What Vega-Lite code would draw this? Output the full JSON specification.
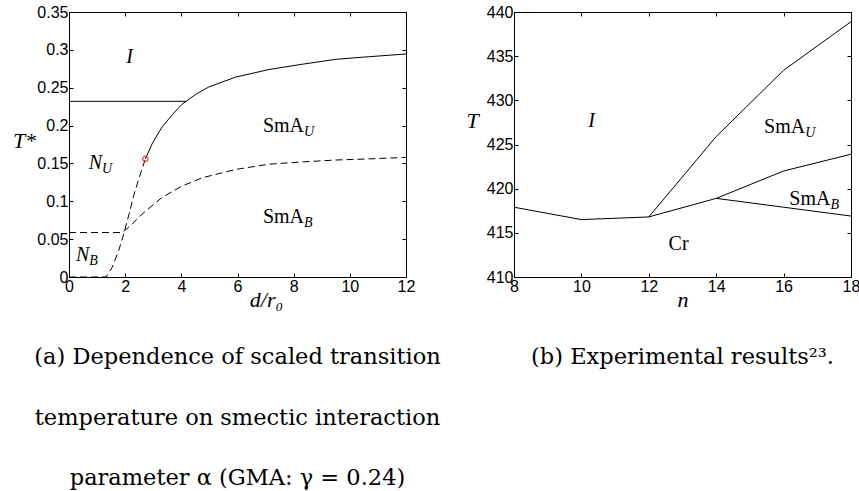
{
  "$schema": "https://vega.github.io/schema/vega-lite/v6.json",
  "background": "white",
  "padding": {"left": 12, "top": 4, "right": 5, "bottom": 5},
  "autosize": {"type": "pad"},
  "bounds": "flush",
  "spacing": 108,
  "datasets": {
    "aSolid": [
      {"seg": "h", "x": 0, "y": 0.232}, {"seg": "h", "x": 4.17, "y": 0.232},
      {"seg": "c", "x": 2.72, "y": 0.156}, {"seg": "c", "x": 2.96, "y": 0.176},
      {"seg": "c", "x": 3.31, "y": 0.198}, {"seg": "c", "x": 3.67, "y": 0.214},
      {"seg": "c", "x": 4.02, "y": 0.228}, {"seg": "c", "x": 4.5, "y": 0.241},
      {"seg": "c", "x": 4.98, "y": 0.251}, {"seg": "c", "x": 5.93, "y": 0.264},
      {"seg": "c", "x": 7.12, "y": 0.274}, {"seg": "c", "x": 8.3, "y": 0.281},
      {"seg": "c", "x": 9.5, "y": 0.2875}, {"seg": "c", "x": 10.7, "y": 0.291},
      {"seg": "c", "x": 12, "y": 0.2945}
    ],
    "aDash": [
      {"seg": "s", "x": 0, "y": 0}, {"seg": "s", "x": 1.32, "y": 0},
      {"seg": "s", "x": 1.53, "y": 0.0123}, {"seg": "s", "x": 1.77, "y": 0.035},
      {"seg": "s", "x": 1.95, "y": 0.057}, {"seg": "s", "x": 2.13, "y": 0.082},
      {"seg": "s", "x": 2.3, "y": 0.107}, {"seg": "s", "x": 2.48, "y": 0.129},
      {"seg": "s", "x": 2.72, "y": 0.156},
      {"seg": "b", "x": 0, "y": 0.0587}, {"seg": "b", "x": 1.89, "y": 0.0587},
      {"seg": "b", "x": 2.2, "y": 0.068}, {"seg": "b", "x": 2.6, "y": 0.083},
      {"seg": "b", "x": 3.31, "y": 0.105}, {"seg": "b", "x": 4.02, "y": 0.12},
      {"seg": "b", "x": 4.74, "y": 0.131}, {"seg": "b", "x": 5.93, "y": 0.142},
      {"seg": "b", "x": 7.12, "y": 0.149}, {"seg": "b", "x": 8.3, "y": 0.152},
      {"seg": "b", "x": 9.5, "y": 0.1545}, {"seg": "b", "x": 10.7, "y": 0.156},
      {"seg": "b", "x": 12, "y": 0.158}
    ],
    "aPoint": [{"x": 2.72, "y": 0.156}],
    "aLabels": [
      {"role": "mi", "t": "I", "x": 2.28, "y": 0.282},
      {"role": "mu", "t": "SmA", "x": 8.37, "y": 0.191},
      {"role": "s", "t": "U", "x": 8.37, "y": 0.191},
      {"role": "mu", "t": "SmA", "x": 8.37, "y": 0.0707},
      {"role": "s", "t": "B", "x": 8.37, "y": 0.0707},
      {"role": "mi", "t": "N", "x": 1.175, "y": 0.1428},
      {"role": "s", "t": "U", "x": 1.175, "y": 0.1428},
      {"role": "mi", "t": "N", "x": 0.72, "y": 0.0212},
      {"role": "s", "t": "B", "x": 0.72, "y": 0.0212}
    ],
    "bLines": [
      {"seg": "1", "n": 8, "T": 417.9}, {"seg": "1", "n": 10, "T": 416.5},
      {"seg": "1", "n": 12, "T": 416.8}, {"seg": "1", "n": 14, "T": 425.9},
      {"seg": "1", "n": 16, "T": 433.4}, {"seg": "1", "n": 18, "T": 438.9},
      {"seg": "2", "n": 12, "T": 416.8}, {"seg": "2", "n": 14, "T": 418.9},
      {"seg": "2", "n": 16, "T": 422.0}, {"seg": "2", "n": 18, "T": 423.9},
      {"seg": "3", "n": 14, "T": 418.9}, {"seg": "3", "n": 16, "T": 417.9},
      {"seg": "3", "n": 18, "T": 416.9}
    ],
    "bLabels": [
      {"role": "mi", "t": "I", "n": 10.4, "T": 427.0},
      {"role": "mu", "t": "SmA", "n": 16.64, "T": 426.3},
      {"role": "s", "t": "U", "n": 16.64, "T": 426.3},
      {"role": "mu", "t": "SmA", "n": 17.39, "T": 418.2},
      {"role": "s", "t": "B", "n": 17.39, "T": 418.2},
      {"role": "mu", "t": "Cr", "n": 13.18, "T": 413.1}
    ]
  },
  "hconcat": [
    {
      "width": 337,
      "height": 265,
      "title": {
        "text": ["(a) Dependence of scaled transition", "temperature on smectic interaction", "parameter α (GMA: γ = 0.24)"],
        "orient": "bottom", "anchor": "middle", "font": "DejaVu Serif", "fontSize": 22.5,
        "fontWeight": "normal", "color": "black", "lineHeight": 60.5, "offset": 36
      },
      "resolve": {"axis": {"x": "independent", "y": "independent"}},
      "layer": [
        {
          "data": {"name": "aSolid"},
          "mark": {"type": "line", "color": "black", "strokeWidth": 1},
          "encoding": {
            "x": {"field": "x", "type": "quantitative", "scale": {"domain": [0, 12], "nice": false},
              "axis": {"values": [0, 2, 4, 6, 8, 10, 12], "title": "d/r₀", "titleX": 197, "titleY": 29,
                "titleAlign": "center", "titleBaseline": "alphabetic"}},
            "y": {"field": "y", "type": "quantitative", "scale": {"domain": [0, 0.35], "nice": false},
              "axis": {"values": [0, 0.05, 0.1, 0.15, 0.2, 0.25, 0.3, 0.35], "format": "~g", "title": "T*",
                "titleAngle": 0, "titleX": -45, "titleY": 128, "titleAlign": "center", "titleBaseline": "middle"}},
            "detail": {"field": "seg"}
          }
        },
        {
          "data": {"name": "aDash"},
          "mark": {"type": "line", "color": "black", "strokeWidth": 1, "strokeDash": [7, 4]},
          "encoding": {
            "x": {"field": "x", "type": "quantitative", "scale": {"domain": [0, 12], "nice": false}, "axis": null},
            "y": {"field": "y", "type": "quantitative", "scale": {"domain": [0, 0.35], "nice": false}, "axis": null},
            "detail": {"field": "seg"}
          }
        },
        {
          "data": {"name": "aPoint"},
          "mark": {"type": "point", "shape": "circle", "filled": false, "color": "#ff0000", "size": 30, "strokeWidth": 1, "opacity": 1},
          "encoding": {
            "x": {"field": "x", "type": "quantitative", "scale": {"domain": [0, 12], "nice": false},
              "axis": {"orient": "top", "values": [0, 2, 4, 6, 8, 10, 12], "labels": false, "title": null}},
            "y": {"field": "y", "type": "quantitative", "scale": {"domain": [0, 0.35], "nice": false},
              "axis": {"orient": "right", "values": [0, 0.05, 0.1, 0.15, 0.2, 0.25, 0.3, 0.35], "labels": false, "title": null}}
          }
        },
        {
          "data": {"name": "aLabels"},
          "transform": [{"filter": "datum.role === 'mi'"}],
          "mark": {"type": "text", "font": "Liberation Serif", "fontSize": 20, "fontStyle": "italic", "align": "right", "baseline": "alphabetic", "color": "black"},
          "encoding": {
            "x": {"field": "x", "type": "quantitative", "scale": {"domain": [0, 12], "nice": false}, "axis": null},
            "y": {"field": "y", "type": "quantitative", "scale": {"domain": [0, 0.35], "nice": false}, "axis": null},
            "text": {"field": "t"}
          }
        },
        {
          "data": {"name": "aLabels"},
          "transform": [{"filter": "datum.role === 'mu'"}],
          "mark": {"type": "text", "font": "Liberation Serif", "fontSize": 20, "align": "right", "baseline": "alphabetic", "color": "black"},
          "encoding": {
            "x": {"field": "x", "type": "quantitative", "scale": {"domain": [0, 12], "nice": false}, "axis": null},
            "y": {"field": "y", "type": "quantitative", "scale": {"domain": [0, 0.35], "nice": false}, "axis": null},
            "text": {"field": "t"}
          }
        },
        {
          "data": {"name": "aLabels"},
          "transform": [{"filter": "datum.role === 's'"}],
          "mark": {"type": "text", "font": "Liberation Serif", "fontSize": 14, "fontStyle": "italic", "align": "left", "baseline": "alphabetic", "dy": 4, "color": "black"},
          "encoding": {
            "x": {"field": "x", "type": "quantitative", "scale": {"domain": [0, 12], "nice": false}, "axis": null},
            "y": {"field": "y", "type": "quantitative", "scale": {"domain": [0, 0.35], "nice": false}, "axis": null},
            "text": {"field": "t"}
          }
        }
      ]
    },
    {
      "width": 337,
      "height": 265,
      "title": {
        "text": "(b) Experimental results²³.",
        "orient": "bottom", "anchor": "middle", "font": "DejaVu Serif", "fontSize": 22.5,
        "fontWeight": "normal", "color": "black", "offset": 36
      },
      "resolve": {"axis": {"x": "independent", "y": "independent"}},
      "layer": [
        {
          "data": {"name": "bLines"},
          "mark": {"type": "line", "color": "black", "strokeWidth": 1},
          "encoding": {
            "x": {"field": "n", "type": "quantitative", "scale": {"domain": [8, 18], "nice": false},
              "axis": {"values": [8, 10, 12, 14, 16, 18], "title": "n", "titleY": 29, "titleBaseline": "alphabetic"}},
            "y": {"field": "T", "type": "quantitative", "scale": {"domain": [410, 440], "nice": false},
              "axis": {"values": [410, 415, 420, 425, 430, 435, 440], "title": "T",
                "titleAngle": 0, "titleX": -42, "titleY": 108, "titleAlign": "center", "titleBaseline": "middle"}},
            "detail": {"field": "seg"}
          }
        },
        {
          "data": {"name": "bLabels"},
          "transform": [{"filter": "datum.role === 'mi'"}],
          "mark": {"type": "text", "font": "Liberation Serif", "fontSize": 20, "fontStyle": "italic", "align": "right", "baseline": "alphabetic", "color": "black"},
          "encoding": {
            "x": {"field": "n", "type": "quantitative", "scale": {"domain": [8, 18], "nice": false},
              "axis": {"orient": "top", "values": [8, 10, 12, 14, 16, 18], "labels": false, "title": null}},
            "y": {"field": "T", "type": "quantitative", "scale": {"domain": [410, 440], "nice": false},
              "axis": {"orient": "right", "values": [410, 415, 420, 425, 430, 435, 440], "labels": false, "title": null}},
            "text": {"field": "t"}
          }
        },
        {
          "data": {"name": "bLabels"},
          "transform": [{"filter": "datum.role === 'mu'"}],
          "mark": {"type": "text", "font": "Liberation Serif", "fontSize": 20, "align": "right", "baseline": "alphabetic", "color": "black"},
          "encoding": {
            "x": {"field": "n", "type": "quantitative", "scale": {"domain": [8, 18], "nice": false}, "axis": null},
            "y": {"field": "T", "type": "quantitative", "scale": {"domain": [410, 440], "nice": false}, "axis": null},
            "text": {"field": "t"}
          }
        },
        {
          "data": {"name": "bLabels"},
          "transform": [{"filter": "datum.role === 's'"}],
          "mark": {"type": "text", "font": "Liberation Serif", "fontSize": 14, "fontStyle": "italic", "align": "left", "baseline": "alphabetic", "dy": 4, "color": "black"},
          "encoding": {
            "x": {"field": "n", "type": "quantitative", "scale": {"domain": [8, 18], "nice": false}, "axis": null},
            "y": {"field": "T", "type": "quantitative", "scale": {"domain": [410, 440], "nice": false}, "axis": null},
            "text": {"field": "t"}
          }
        }
      ]
    }
  ],
  "config": {
    "view": {"stroke": null},
    "axis": {
      "grid": false, "domainColor": "black", "domainWidth": 1, "tickColor": "black", "tickWidth": 1,
      "tickSize": -4, "labelPadding": 5, "labelColor": "black", "labelFont": "Liberation Sans",
      "labelFontSize": 16, "labelFlush": false, "labelOverlap": false,
      "titleFont": "Liberation Serif", "titleFontStyle": "italic", "titleFontWeight": "normal",
      "titleFontSize": 22, "titleColor": "black"
    }
  }
}
